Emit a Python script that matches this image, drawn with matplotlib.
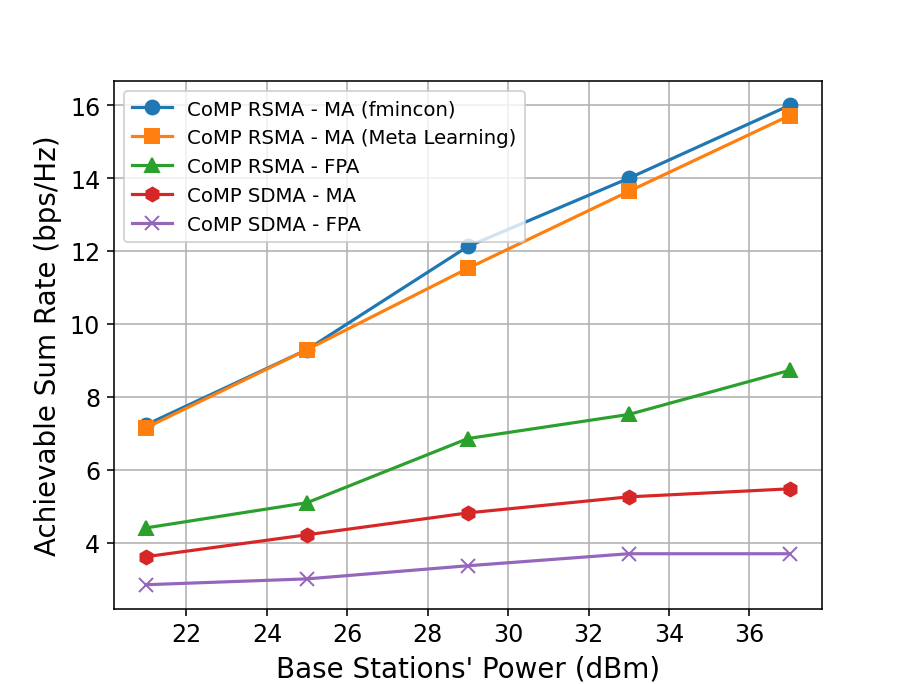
import matplotlib
matplotlib.use("Agg")
import matplotlib.pyplot as plt

# ── data ──────────────────────────────────────────────────────────────────
power_dbm = [21, 25, 29, 33, 37]
rsma_ma_fmincon = [7.24, 9.30, 12.13, 14.00, 16.00]
rsma_ma_meta = [7.16, 9.30, 11.53, 13.64, 15.72]
rsma_fpa = [4.41, 5.10, 6.86, 7.52, 8.73]
sdma_ma = [3.62, 4.22, 4.82, 5.26, 5.48]
sdma_fpa = [2.85, 3.01, 3.37, 3.70, 3.70]

series = [
    ("CoMP RSMA - MA (fmincon)", rsma_ma_fmincon, "o"),
    ("CoMP RSMA - MA (Meta Learning)", rsma_ma_meta, "s"),
    ("CoMP RSMA - FPA", rsma_fpa, "^"),
    ("CoMP SDMA - MA", sdma_ma, "h"),
    ("CoMP SDMA - FPA", sdma_fpa, "x"),
]

fig, ax = plt.subplots(figsize=(6.4, 4.8), dpi=142.66)
for label, vals, marker in series:
    ax.plot(power_dbm, vals, marker=marker, markersize=7, linewidth=1.6, label=label)

ax.set_xlabel("Base Stations' Power (dBm)", fontsize=14)
ax.set_ylabel("Achievable Sum Rate (bps/Hz)", fontsize=14)
ax.tick_params(labelsize=12)
ax.grid(True)
ax.legend(loc="upper left", fontsize=10)

plt.savefig("out.png", dpi=142.66)
plt.close()
